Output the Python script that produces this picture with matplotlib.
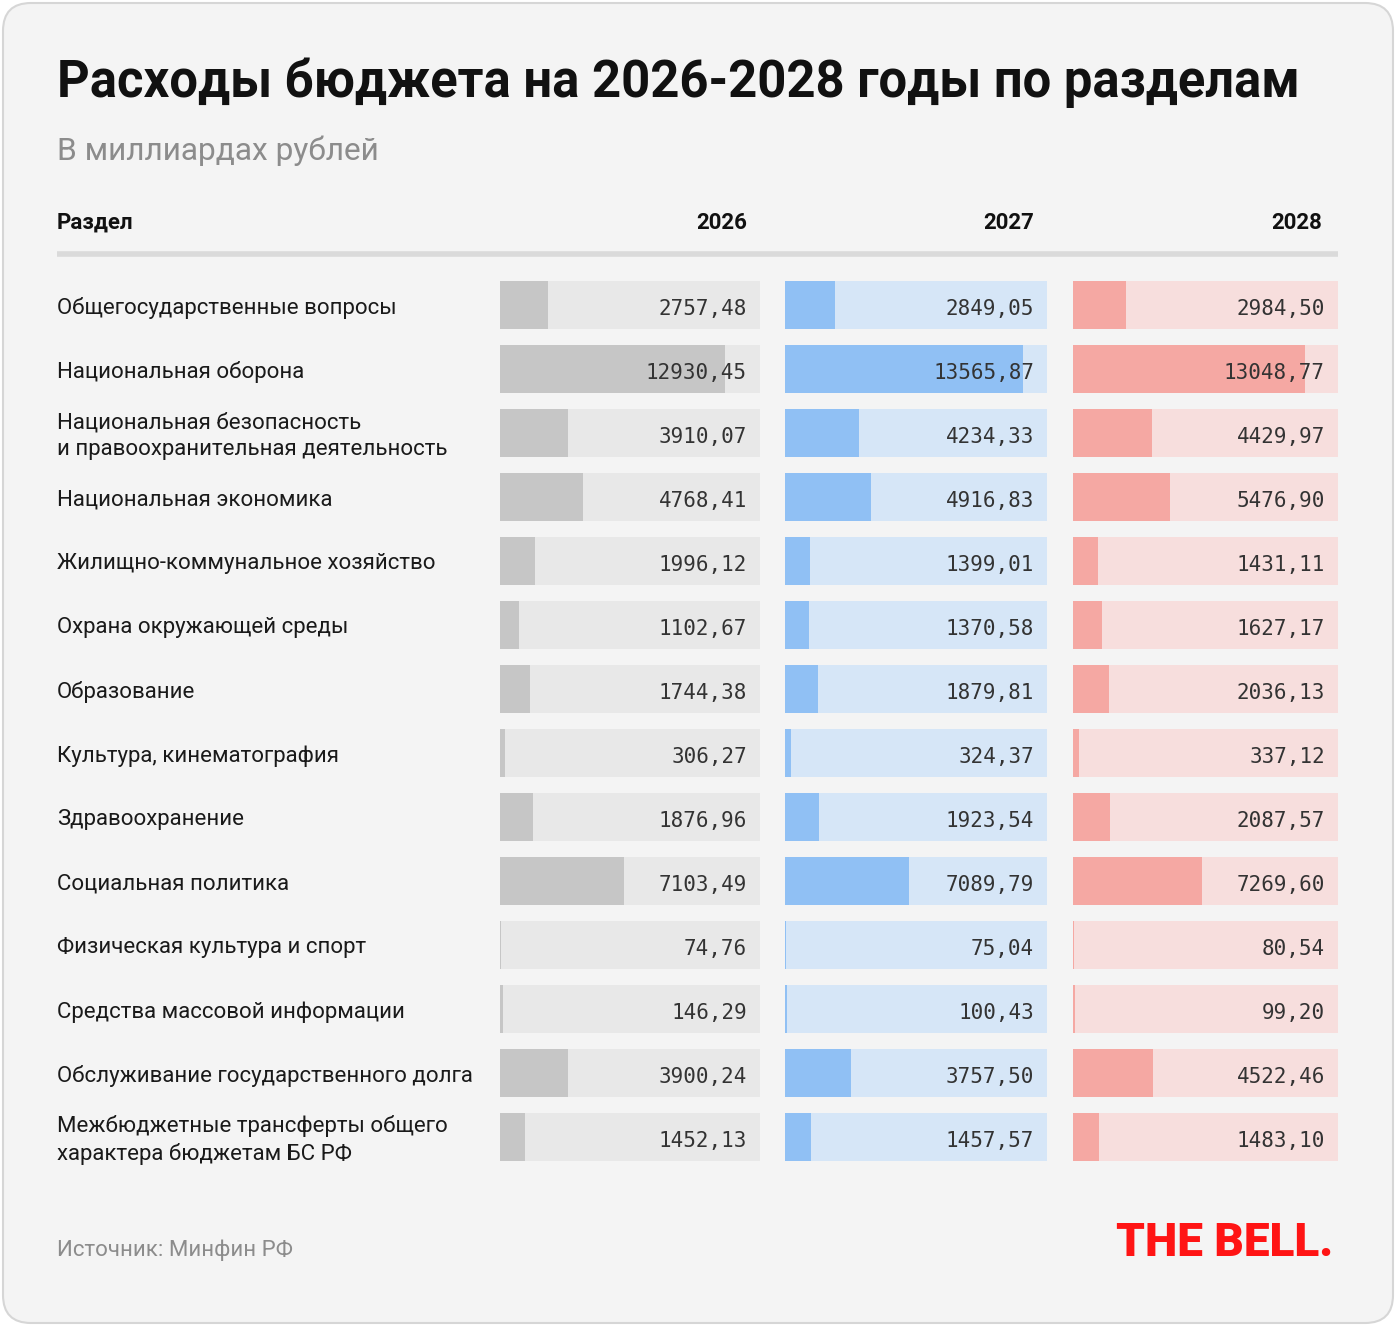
import matplotlib.pyplot as plt
from matplotlib.patches import FancyBboxPatch

# Data (billions of rubles)
sections = [
    'Общегосударственные вопросы',
    'Национальная оборона',
    'Национальная безопасность\nи правоохранительная деятельность',
    'Национальная экономика',
    'Жилищно-коммунальное хозяйство',
    'Охрана окружающей среды',
    'Образование',
    'Культура, кинематография',
    'Здравоохранение',
    'Социальная политика',
    'Физическая культура и спорт',
    'Средства массовой информации',
    'Обслуживание государственного долга',
    'Межбюджетные трансферты общего\nхарактера бюджетам БС РФ',
]
years = ['2026', '2027', '2028']
v2026 = [2757.48, 12930.45, 3910.07, 4768.41, 1996.12, 1102.67, 1744.38,
         306.27, 1876.96, 7103.49, 74.76, 146.29, 3900.24, 1452.13]
v2027 = [2849.05, 13565.87, 4234.33, 4916.83, 1399.01, 1370.58, 1879.81,
         324.37, 1923.54, 7089.79, 75.04, 100.43, 3757.50, 1457.57]
v2028 = [2984.50, 13048.77, 4429.97, 5476.90, 1431.11, 1627.17, 2036.13,
         337.12, 2087.57, 7269.60, 80.54, 99.20, 4522.46, 1483.10]
values = [v2026, v2027, v2028]

bar_colors = ['#c6c6c6', '#90c0f4', '#f5a8a3']
track_colors = ['#e8e8e8', '#d6e6f7', '#f7dedd']

W, H = 1396, 1326
fig = plt.figure(figsize=(W / 100, H / 100), dpi=100)
fig.patch.set_facecolor('white')

bg = fig.add_axes([0, 0, 1, 1])
bg.set_xlim(0, W)
bg.set_ylim(H, 0)
bg.axis('off')
bg.add_patch(FancyBboxPatch((3, 3), W - 6, H - 6,
                            boxstyle='round,pad=0,rounding_size=28',
                            facecolor='#f4f4f4', edgecolor='#d6d6d6', lw=1.5))

font = 'Roboto'
mono = 'DejaVu Sans Mono'

bg.text(57, 97, 'Расходы бюджета на 2026-2028 годы по разделам', fontsize=36.5,
        fontweight='bold', family=font, color='#111111', va='baseline')
bg.text(57, 160, 'В миллиардах рублей', fontsize=22.8, family=font,
        color='#8c8c8c', va='baseline')
bg.text(57, 229, 'Раздел', fontsize=16, fontweight='bold', family=font,
        color='#111111', va='baseline')
bg.plot([57, 1338], [254, 254], color='#dadada', lw=4, solid_capstyle='butt')

# columns: left, right edge in px
cols = [(500, 760), (785, 1047), (1073, 1338)]
top, row_h, n = 273, 64, len(sections)
vmax = max(max(v) for v in values) * 1.1

for i, sec in enumerate(sections):
    bg.text(57, top + row_h * i + 35, sec, fontsize=16, family=font,
            color='#1a1a1a', va='center', linespacing=1.35)

for k, (x0, x1) in enumerate(cols):
    bg.text(x1 - 13 if k < 2 else x1 - 16, 229, years[k], fontsize=16,
            fontweight='bold', family=font, color='#111111',
            ha='right', va='baseline')
    ax = fig.add_axes([x0 / W, 1 - (top + row_h * n) / H,
                       (x1 - x0) / W, row_h * n / H])
    ax.set_xlim(0, vmax)
    ax.set_ylim(n - 0.5, -0.5)
    ax.axis('off')
    rows = list(range(n))
    ax.barh(rows, [vmax] * n, height=0.75, color=track_colors[k], lw=0)
    ax.barh(rows, values[k], height=0.75, color=bar_colors[k], lw=0)
    for i, v in enumerate(values[k]):
        ax.text(vmax * (1 - 13 / (x1 - x0)), i + 0.06,
                f'{v:.2f}'.replace('.', ','),
                fontsize=15, family=mono, color='#333333',
                ha='right', va='center')

bg.text(57, 1256, 'Источник: Минфин РФ', fontsize=16, family=font,
        color='#8c8c8c', va='baseline')
bg.text(1333, 1256, 'THE BELL.', fontsize=33, fontweight='black', family=font,
        color='#ff1414', ha='right', va='baseline')

fig.savefig('out.png', dpi=100, facecolor='white')
